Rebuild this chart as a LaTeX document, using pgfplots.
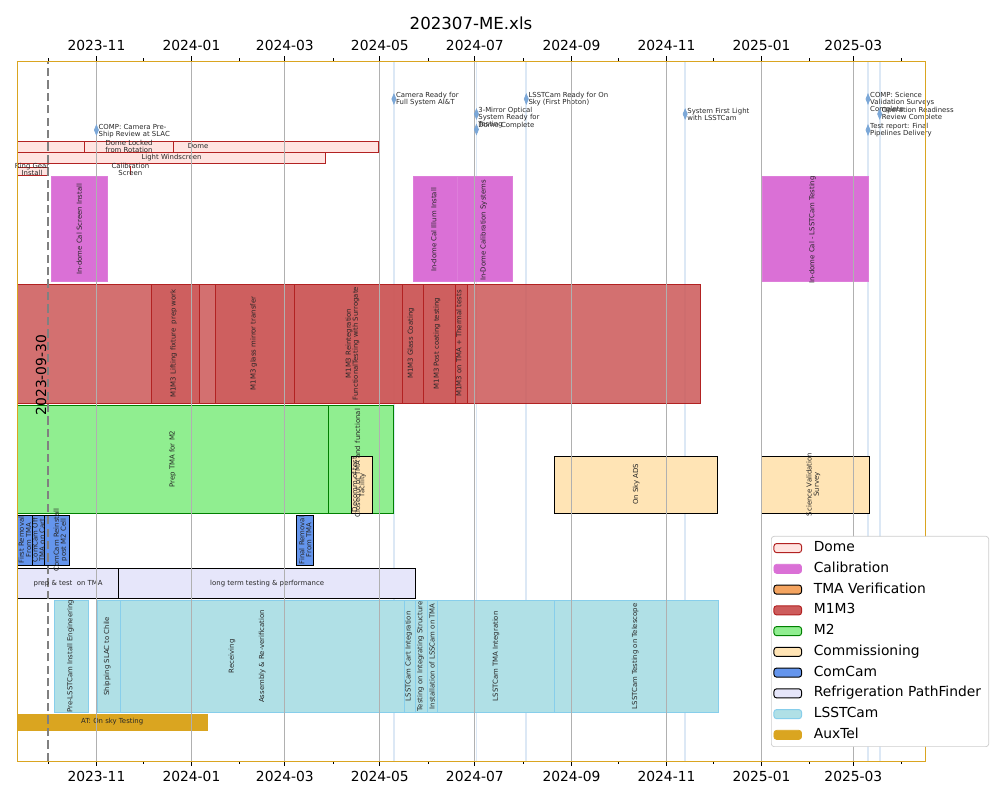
\documentclass[border=0pt]{standalone}
\usepackage{fontspec}
\setmainfont{DejaVu Sans}
\usepackage{pgfplots}
\pgfplotsset{compat=1.18}
\usetikzlibrary{plotmarks}
\definecolor{domefill}{HTML}{FFE4E1}
\definecolor{domeedge}{HTML}{B22222}
\definecolor{calfill}{HTML}{DA70D6}
\definecolor{tmafill}{HTML}{F4A460}
\definecolor{m1m3fill}{HTML}{CD5C5C}
\definecolor{m1m3edge}{HTML}{B22222}
\definecolor{m2fill}{HTML}{90EE90}
\definecolor{m2edge}{HTML}{008000}
\definecolor{comfill}{HTML}{FFE4B5}
\definecolor{ccfill}{HTML}{6495ED}
\definecolor{rpffill}{HTML}{E6E6FA}
\definecolor{lsfill}{HTML}{B0E0E6}
\definecolor{lsedge}{HTML}{87CEEB}
\definecolor{atfill}{HTML}{DAA520}
\definecolor{msblue}{HTML}{7BA7D7}
\definecolor{msline}{HTML}{DCE8F5}
\definecolor{gridgray}{HTML}{B0B0B0}
\tikzset{lb/.style={font=\fontsize{5}{5.1}\selectfont, inner sep=0pt, align=center, text=black!85},
ms/.style={lb, anchor=west, align=left}}
\newcommand{\gbar}[5]{\addplot[forget plot,#5] coordinates {(#1,#3) (#2,#3) (#2,#4) (#1,#4)} --cycle;}
\newcommand{\msvline}[1]{\addplot[forget plot, msline, line width=1.2pt] coordinates {(#1,0) (#1,700)};}
\pgfplotsset{
 dome/.style={fill=domefill, draw=domeedge, line width=0.7pt},
 cal/.style={fill=calfill, draw=calfill!90!white, line width=0.5pt},
 mm/.style={fill=m1m3fill, fill opacity=0.88, draw=m1m3edge, line width=0.7pt},
 mtwo/.style={fill=m2fill, draw=m2edge, line width=0.7pt},
 com/.style={fill=comfill, draw=black, line width=0.7pt},
 cc/.style={fill=ccfill, draw=black, line width=0.7pt},
 rpf/.style={fill=rpffill, draw=black, line width=0.7pt},
 ls/.style={fill=lsfill, draw=lsedge, line width=0.7pt},
 at/.style={fill=atfill, draw=atfill, line width=0.5pt},
 dateaxis/.style={
  scale only axis, width=9.08in, height=7in,
  xmin=-51, xmax=532,
  xtick={0,61,121,182,243,305,366,427,486},
  xticklabels={2023-11,2024-01,2024-03,2024-05,2024-07,2024-09,2024-11,2025-01,2025-03},
  minor xtick={-31,30,92,152,213,274,335,396,458,517},
  tick align=outside, major tick length=3.5pt, minor tick length=2pt,
  tick style={black, line width=0.6pt},
  tick label style={font=\fontsize{10}{12}\selectfont},
  /pgf/number format/assume math mode=true,
 }
}
\begin{document}
\begin{tikzpicture}
\useasboundingbox (0,0) rectangle (10in,8in);
\begin{scope}[shift={(0.17in,0.39in)}]
\begin{axis}[dateaxis, anchor=south west, at={(0,0)},
 ymin=0, ymax=700, ytick=\empty,
 xtick pos=lower,
 xmajorgrids, grid style={gridgray, line width=0.8pt},
 axis on top, clip=false,
 axis line style={line width=0.6pt},
 legend image code/.code={\draw[#1] (0pt,-3.3pt) rectangle (20pt,3.3pt);},
 legend style={at={(0.8304,0.02)}, anchor=south west, draw={rgb,255:red,204;green,204;blue,204},
   rounded corners=2pt, fill=white, font=\fontsize{10}{12}\selectfont,
   inner xsep=1.5pt, inner ysep=1pt, row sep=0pt, column sep=4.5pt,
   nodes={inner xsep=4pt, inner ysep=2.6pt, text height=7.5pt, text depth=2.3pt}},
 legend cell align=left,
]
% milestone lines
\msvline{0}\msvline{191}\msvline{244}\msvline{276}\msvline{378}\msvline{495.4}\msvline{502.9}
% Dome
\gbar{-51}{181.2}{609}{620}{dome}
\gbar{-7.7}{49.5}{609}{620}{dome}
\gbar{-51}{147.2}{597.7}{608.3}{dome}
\gbar{-51}{-30.8}{585.3}{594}{dome}
\addplot[forget plot, domeedge, line width=0.7pt] coordinates {(21.8,586) (21.8,595)};
% Calibration
\gbar{-28.9}{6.9}{479.3}{584.3}{cal}
\gbar{203.7}{231.6}{479.3}{584.3}{cal}
\gbar{231.6}{267.1}{479.3}{584.3}{cal}
\gbar{427.3}{495.7}{479.3}{584.3}{cal}
% M1M3
\gbar{-51}{387.8}{358}{477}{mm}
\gbar{35.5}{66.3}{358}{477}{mm}
\gbar{76.6}{127.1}{358}{477}{mm}
\gbar{127.1}{196.3}{358}{477}{mm}
\gbar{196.3}{209.7}{358}{477}{mm}
\gbar{209.7}{230.3}{358}{477}{mm}
\gbar{230.3}{238}{358}{477}{mm}
% M2
\gbar{-51}{149.1}{248}{356}{mtwo}
\gbar{149.1}{190.5}{248}{356}{mtwo}
% Commissioning
\gbar{163.5}{177.4}{248}{305}{com}
\gbar{294.2}{398.9}{248}{305}{com}
\gbar{427.3}{496.1}{248}{305}{com}
% ComCam
\gbar{-51}{-41.3}{195.7}{246}{cc}
\gbar{-41.3}{-33.4}{195.7}{246}{cc}
\gbar{-33.4}{-17.1}{195.7}{246}{cc}
\gbar{128.6}{139.5}{195.7}{246}{cc}
% Refrigeration PathFinder
\gbar{-51}{14.3}{162.7}{192.7}{rpf}
\gbar{14.3}{204.8}{162.7}{192.7}{rpf}
% LSSTCam
\gbar{-26.8}{-5.3}{48.3}{161}{ls}
\gbar{0.4}{15.4}{48.3}{161}{ls}
\gbar{15.4}{159.9}{48.3}{161}{ls}
\gbar{15.4}{197.9}{48.3}{161}{ls}
\gbar{197.9}{204.8}{48.3}{161}{ls}
\gbar{204.8}{212.3}{48.3}{161}{ls}
\gbar{212.3}{219.2}{48.3}{161}{ls}
\gbar{219.2}{294.2}{48.3}{161}{ls}
\gbar{294.2}{399.1}{48.3}{161}{ls}
% AuxTel
\gbar{-51}{71.5}{31}{47}{at}
% milestones
\addplot[forget plot, only marks, mark=diamond*, mark size=3.6pt,
  mark options={xscale=0.55, fill=msblue, draw=msblue}]
  coordinates {(0,631) (191,662) (244,647) (244,631.5) (276,662) (378,647) (495.4,662) (502.9,647) (495.4,631)};
% dashed line
\addplot[forget plot, gray, dash pattern=on 6pt off 3pt, line width=1.5pt] coordinates {(-31,0) (-31,700)};
% legend
\addlegendimage{fill=domefill, draw=domeedge, line width=0.7pt}\addlegendentry{Dome}
\addlegendimage{fill=calfill, draw=calfill}\addlegendentry{Calibration}
\addlegendimage{fill=tmafill, draw=black, line width=0.7pt}\addlegendentry{TMA Verification}
\addlegendimage{fill=m1m3fill, draw=m1m3edge, line width=0.7pt}\addlegendentry{M1M3}
\addlegendimage{fill=m2fill, draw=m2edge, line width=0.7pt}\addlegendentry{M2}
\addlegendimage{fill=comfill, draw=black, line width=0.7pt}\addlegendentry{Commissioning}
\addlegendimage{fill=ccfill, draw=black, line width=0.7pt}\addlegendentry{ComCam}
\addlegendimage{fill=rpffill, draw=black, line width=0.7pt}\addlegendentry{Refrigeration PathFinder}
\addlegendimage{fill=lsfill, draw=lsedge, line width=0.7pt}\addlegendentry{LSSTCam}
\addlegendimage{fill=atfill, draw=atfill}\addlegendentry{AuxTel}
% ---- labels
\node[lb] at (axis cs:20.9,615) {Dome Locked\\from Rotation};
\node[lb] at (axis cs:65.3,615.3) {Dome};
\node[lb] at (axis cs:48.2,603.3) {Light Windscreen};
\node[lb] at (axis cs:-41.3,592) {Ring Gear\\Install};
\node[lb] at (axis cs:21.8,592) {Calibration\\Screen};
\node[lb, rotate=90] at (axis cs:-11,531.8) {In-dome Cal Screen Install};
\node[lb, rotate=90] at (axis cs:216.6,531) {In-dome Cal Illum Install};
\node[lb, rotate=90] at (axis cs:248.7,530.5) {In-Dome Calibration Systems};
\node[lb, rotate=90] at (axis cs:459.7,531) {In-dome Cal - LSSTCam Testing};
\node[lb, rotate=90] at (axis cs:49.6,417.5) {M1M3 Lifting fixture\ \ prep work};
\node[lb, rotate=90] at (axis cs:101,417.5) {M1M3 glass mirror transfer};
\node[lb, rotate=90] at (axis cs:164.4,417.5) {M1M3 Reintegration\\FunctionalTesting with Surrogate};
\node[lb, rotate=90] at (axis cs:202,417.5) {M1M3 Glass Coating};
\node[lb, rotate=90] at (axis cs:218.7,417.5) {M1M3 Post coating testing};
\node[lb, rotate=90] at (axis cs:232.6,417.5) {M1M3 on TMA + Thermal tests};
\node[lb, rotate=90] at (axis cs:49,302) {Prep TMA for M2};
\node[lb, rotate=90] at (axis cs:167.6,298) {Closeout of TMA and functional};
\node[lb, rotate=90] at (axis cs:168.5,276.5) {Decomm of test\\facility};
\node[lb, rotate=90] at (axis cs:346.5,276.5) {On Sky ADS};
\node[lb, rotate=90] at (axis cs:460.3,276.5) {Science Validation\\Survey};
\node[lb, rotate=90] at (axis cs:-45.9,221) {First Removal\\From TMA};
\node[lb, rotate=90] at (axis cs:-37.2,221) {ComCam Off\\TMA on Cart};
\node[lb, rotate=90] at (axis cs:-23.1,221) {ComCam Reinstall\\post M2 Cell};
\node[lb, rotate=90] at (axis cs:134.1,221) {Final Removal\\From TMA};
\node[lb] at (axis cs:-18.2,177.7) {prep \& test\ \ on TMA};
\node[lb] at (axis cs:109.6,177.7) {long term testing \& performance};
\node[lb, rotate=90] at (axis cs:-16.7,104.7) {Pre-LSSTCam Install Engineering};
\node[lb, rotate=90] at (axis cs:7,104.7) {Shipping SLAC to Chile};
\node[lb, rotate=90] at (axis cs:87.1,104.7) {Receiving};
\node[lb, rotate=90] at (axis cs:106.4,104.7) {Assembly \& Re-verification};
\node[lb, rotate=90] at (axis cs:200.5,104.7) {LSSTCam Cart Integration};
\node[lb, rotate=90] at (axis cs:208,104.7) {Testing on Integrating Structure};
\node[lb, rotate=90] at (axis cs:215.5,104.7) {Installation of LSSCam on TMA};
\node[lb, rotate=90] at (axis cs:256.6,104.7) {LSSTCam TMA Integration};
\node[lb, rotate=90] at (axis cs:346,104.7) {LSSTCam Testing on Telescope};
\node[lb] at (axis cs:10.1,39) {AT: On sky Testing};
% milestone texts
\node[ms] at (axis cs:1.2,630) {COMP: Camera Pre-\\Ship Review at SLAC};
\node[ms] at (axis cs:192.2,662) {Camera Ready for\\Full System AI\&T};
\node[ms] at (axis cs:245,643.7) {3-Mirror Optical\\System Ready for\\Testing};
\node[ms] at (axis cs:245,635) {Dome Complete};
\node[ms] at (axis cs:277.2,662) {LSSTCam Ready for On\\Sky (First Photon)};
\node[ms] at (axis cs:379.2,647) {System First Light\\with LSSTCam};
\node[ms] at (axis cs:496.6,658.6) {COMP: Science\\Validation Surveys\\Complete};
\node[ms] at (axis cs:504.1,647) {Operation Readiness\\Review Complete};
\node[ms] at (axis cs:496.6,631) {Test report: Final\\Pipelines Delivery};
\node[rotate=90, font=\fontsize{10}{12}\selectfont] at (axis cs:-35.5,386) {2023-09-30};
\end{axis}
\begin{axis}[dateaxis, anchor=south west, at={(0,0)}, ymin=0, ymax=1, axis x line*=top, axis y line=none,
 axis line style={line width=0.6pt}]
\end{axis}
\end{scope}
\node[font=\fontsize{12}{14}\selectfont] at (4.71in,7.77in) {202307-ME.xls};
\end{tikzpicture}
\end{document}
